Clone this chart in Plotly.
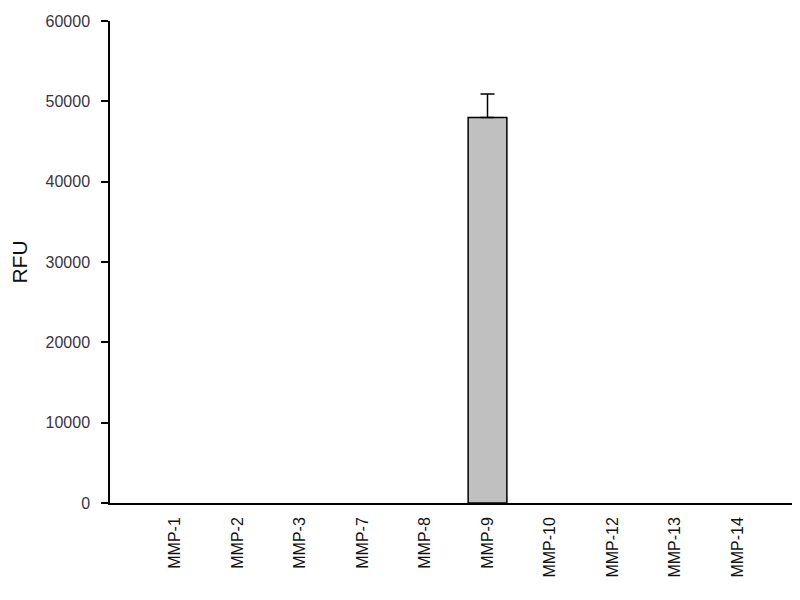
import plotly.graph_objects as go

categories = ["MMP-1", "MMP-2", "MMP-3", "MMP-7", "MMP-8", "MMP-9", "MMP-10", "MMP-12", "MMP-13", "MMP-14"]
rfu = [0, 0, 0, 0, 0, 48000, 0, 0, 0, 0]
rfu_err = [0, 0, 0, 0, 0, 2900, 0, 0, 0, 0]
y_ticks = [0, 10000, 20000, 30000, 40000, 50000, 60000]

fig = go.Figure(go.Bar(
    x=categories, y=rfu,
    marker=dict(color="#c0c0c0",
                line=dict(color="black", width=[1.5 if v > 0 else 0 for v in rfu])),
    width=0.62,
))

# upper-only error bars, drawn only where there is an error value
err_idx = [i for i, e in enumerate(rfu_err) if e > 0]
fig.add_trace(go.Scatter(
    x=[categories[i] for i in err_idx], y=[rfu[i] for i in err_idx],
    mode="markers", marker=dict(size=1, opacity=0),
    error_y=dict(type="data", array=[rfu_err[i] for i in err_idx],
                 arrayminus=[0] * len(err_idx), symmetric=False,
                 color="black", thickness=1.5, width=7, visible=True),
    hoverinfo="skip",
))

fig.update_layout(
    width=800, height=600,
    margin=dict(l=102, r=8, t=13, b=105),
    plot_bgcolor="white", paper_bgcolor="white",
    font=dict(family="Liberation Sans, Arial, sans-serif", color="#222"),
    showlegend=False,
)
fig.update_xaxes(
    type="category", range=[-1.04, 10.0],
    showline=True, linecolor="black", linewidth=1.5,
    ticks="", tickangle=-90, tickfont=dict(size=16, color="#111"),
    ticklabelstandoff=6,
    showgrid=False, zeroline=False,
)
fig.update_yaxes(
    range=[0, 60000], tickvals=y_ticks, ticktext=[str(v) for v in y_ticks],
    showline=True, linecolor="black", linewidth=1.5,
    ticks="outside", ticklen=7, tickcolor="black", tickwidth=1.5,
    tickfont=dict(size=16, color="#3a3340"),
    ticklabelstandoff=8,
    showgrid=False, zeroline=False, automargin=False,
    title=dict(text="RFU", font=dict(size=21, color="#111"), standoff=21),
)

fig.write_html("out.html")
